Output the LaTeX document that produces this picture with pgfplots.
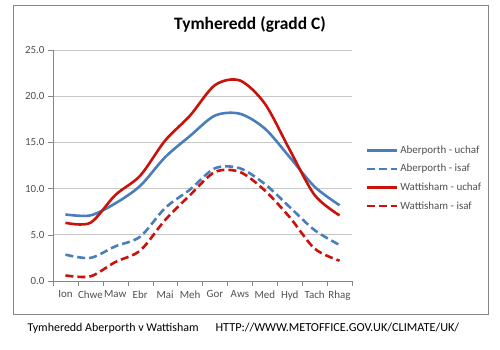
\documentclass[border=0pt]{standalone}
\usepackage{fontspec}
\setmainfont{Carlito}
\usepackage{pgfplots}
\pgfplotsset{compat=1.18}
\definecolor{ablue}{RGB}{74,126,187}
\definecolor{wred}{RGB}{200,18,10}
\definecolor{axgray}{RGB}{134,134,134}
\definecolor{gridgray}{RGB}{200,200,200}
\definecolor{txtgray}{RGB}{80,80,80}
\begin{document}
\begin{tikzpicture}
\path[use as bounding box] (0,0) rectangle (500bp,350bp);
\draw[axgray, line width=1bp] (13bp,35bp) rectangle (488bp,344bp);
\node[font=\fontsize{17.5}{20}\selectfont\bfseries] at (250bp,325bp) {Tymheredd (gradd C)};
\node[anchor=west, font=\fontsize{12}{14}\selectfont] at (24bp,22bp) {Tymheredd Aberporth v Wattisham};
\node[anchor=west, font=\fontsize{12.3}{14}\selectfont] at (212bp,22bp) {HTTP://WWW.METOFFICE.GOV.UK/CLIMATE/UK/};
\begin{axis}[
  at={(53bp,69bp)}, anchor=south west,
  scale only axis, width=299bp, height=231bp,
  xmin=-0.5, xmax=11.5, ymin=0, ymax=25,
  xtick={0,...,11},
  xticklabels={Ion,Chwe,Maw,Ebr,Mai,Meh,Gor,Aws,Med,Hyd,Tach,Rhag},
  minor xtick={-0.5,0.5,...,11.5},
  major x tick style={draw=none},
  minor x tick style={axgray},
  ytick={0,5,...,25},
  y tick style={axgray},
  tick align=outside,
  major tick length=5bp, minor tick length=5bp,
  axis x line*=bottom, axis y line*=left,
  axis line style={axgray},
  ymajorgrids, grid style={gridgray, line width=0.8bp},
  /pgf/number format/assume math mode=true,
  yticklabel style={/pgf/number format/.cd, fixed, fixed zerofill, precision=1},
  ticklabel style={font=\fontsize{11}{13}\selectfont, text=txtgray},
  xticklabel style={yshift=-1bp},
  legend style={at={(1.045,0.595)}, anchor=north west, draw=none, fill=none,
    font=\fontsize{11}{13}\selectfont, text=txtgray, row sep=5.5bp,
    legend cell align=left, inner sep=0pt},
  legend image code/.code={\draw[#1, line width=2.6bp] (0bp,0bp) -- (30bp,0bp);},
  every axis plot/.append style={line width=2.6bp, smooth, tension=0.5},
]
\addplot[ablue] coordinates {(0,7.2) (1,7.1) (2,8.4) (3,10.3) (4,13.4) (5,15.7) (6,17.9) (7,18.1) (8,16.5) (9,13.4) (10,10.2) (11,8.2)};
\addlegendentry{Aberporth - uchaf}
\addplot[ablue, dash pattern=on 8bp off 4bp] coordinates {(0,2.85) (1,2.5) (2,3.75) (3,4.8) (4,7.9) (5,9.9) (6,12.2) (7,12.2) (8,10.5) (9,8.0) (10,5.5) (11,3.9)};
\addlegendentry{Aberporth - isaf}
\addplot[wred] coordinates {(0,6.3) (1,6.3) (2,9.3) (3,11.4) (4,15.2) (5,17.9) (6,21.2) (7,21.7) (8,19.2) (9,14.2) (10,9.3) (11,7.1)};
\addlegendentry{Wattisham - uchaf}
\addplot[wred, dash pattern=on 8bp off 4bp] coordinates {(0,0.6) (1,0.5) (2,2.05) (3,3.3) (4,6.6) (5,9.3) (6,11.8) (7,11.8) (8,9.8) (9,6.9) (10,3.5) (11,2.2)};
\addlegendentry{Wattisham - isaf}
\end{axis}
\end{tikzpicture}
\end{document}
